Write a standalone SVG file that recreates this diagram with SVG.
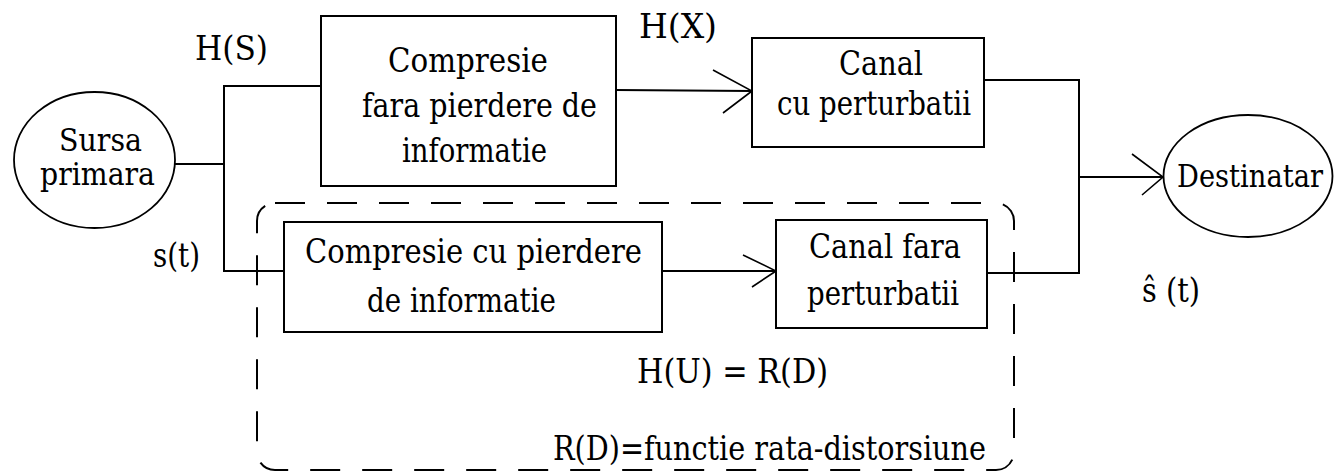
<svg xmlns="http://www.w3.org/2000/svg" width="1334" height="471" viewBox="0 0 1334 471">
<style>
  .t { font-family: "DejaVu Serif", "Liberation Serif", serif; font-size: 34px; fill: #000; }
  .s { font-size: 31px; }
  .box { fill: #fff; stroke: #000; stroke-width: 2; }
  .ell { fill: #fff; stroke: #000; stroke-width: 1.8; }
  .ln { fill: none; stroke: #000; stroke-width: 2; }
  .ah { fill: none; stroke: #000; stroke-width: 1.6; }
  .dash { fill: none; stroke: #000; stroke-width: 2; stroke-dasharray: 30 22; }
</style>
<rect width="1334" height="471" fill="#fff"/>

<g id="boundary">
  <rect class="dash" x="257" y="203" width="757" height="267" rx="18" ry="18"/>
</g>

<g id="connectors">
  <polyline class="ln" points="175,164 224,164"/>
  <polyline class="ln" points="321,86 224,86 224,271 284,271"/>
  <line class="ln" x1="616" y1="90" x2="752" y2="91"/>
  <polyline class="ah" points="713,70 752,91 723,113"/>
  <line class="ln" x1="662" y1="271" x2="776" y2="271"/>
  <polyline class="ah" points="743,255 776,271 752,287"/>
  <polyline class="ln" points="984,80 1079,80 1079,273 987,273"/>
  <line class="ln" x1="1079" y1="177" x2="1163" y2="177"/>
  <polyline class="ah" points="1132,154 1163,177 1142,195"/>
</g>

<g id="sursa">
  <ellipse class="ell" cx="94.5" cy="160" rx="80.5" ry="68"/>
  <text class="t s" x="59" y="151" textLength="83" lengthAdjust="spacingAndGlyphs">Sursa</text>
  <text class="t s" x="40" y="185" textLength="115" lengthAdjust="spacingAndGlyphs">primara</text>
</g>

<g id="compresie-fara">
  <rect class="box" x="321" y="16" width="295" height="170"/>
  <text class="t" x="388" y="72" textLength="160" lengthAdjust="spacingAndGlyphs">Compresie</text>
  <text class="t" x="362" y="117" textLength="235" lengthAdjust="spacingAndGlyphs">fara pierdere de</text>
  <text class="t" x="402" y="162" textLength="145" lengthAdjust="spacingAndGlyphs">informatie</text>
</g>

<g id="canal-cu">
  <rect class="box" x="752" y="38" width="232" height="109"/>
  <text class="t" x="839" y="75" textLength="84" lengthAdjust="spacingAndGlyphs">Canal</text>
  <text class="t" x="777" y="115" textLength="194" lengthAdjust="spacingAndGlyphs">cu perturbatii</text>
</g>

<g id="compresie-cu">
  <rect class="box" x="284" y="222" width="378" height="110"/>
  <text class="t" x="305" y="263" textLength="337" lengthAdjust="spacingAndGlyphs">Compresie cu pierdere</text>
  <text class="t" x="367" y="312" textLength="189" lengthAdjust="spacingAndGlyphs">de informatie</text>
</g>

<g id="canal-fara">
  <rect class="box" x="776" y="220" width="211" height="108"/>
  <text class="t" x="809" y="258" textLength="152" lengthAdjust="spacingAndGlyphs">Canal fara</text>
  <text class="t" x="807" y="305" textLength="152" lengthAdjust="spacingAndGlyphs">perturbatii</text>
</g>

<g id="destinatar">
  <ellipse class="ell" cx="1248" cy="176" rx="84.5" ry="61"/>
  <text class="t s" x="1177" y="187" textLength="146" lengthAdjust="spacingAndGlyphs">Destinatar</text>
</g>

<g id="labels">
  <text class="t" x="195" y="60" textLength="73" lengthAdjust="spacingAndGlyphs">H(S)</text>
  <text class="t" x="639" y="38" textLength="78" lengthAdjust="spacingAndGlyphs">H(X)</text>
  <text class="t" x="153" y="267" textLength="47" lengthAdjust="spacingAndGlyphs">s(t)</text>
  <text class="t" x="1142" y="302" textLength="58" lengthAdjust="spacingAndGlyphs">ŝ (t)</text>
  <text class="t" x="637" y="383" textLength="191" lengthAdjust="spacingAndGlyphs">H(U) = R(D)</text>
  <text class="t" x="553" y="460" textLength="433" lengthAdjust="spacingAndGlyphs">R(D)=functie rata-distorsiune</text>
</g>
</svg>
